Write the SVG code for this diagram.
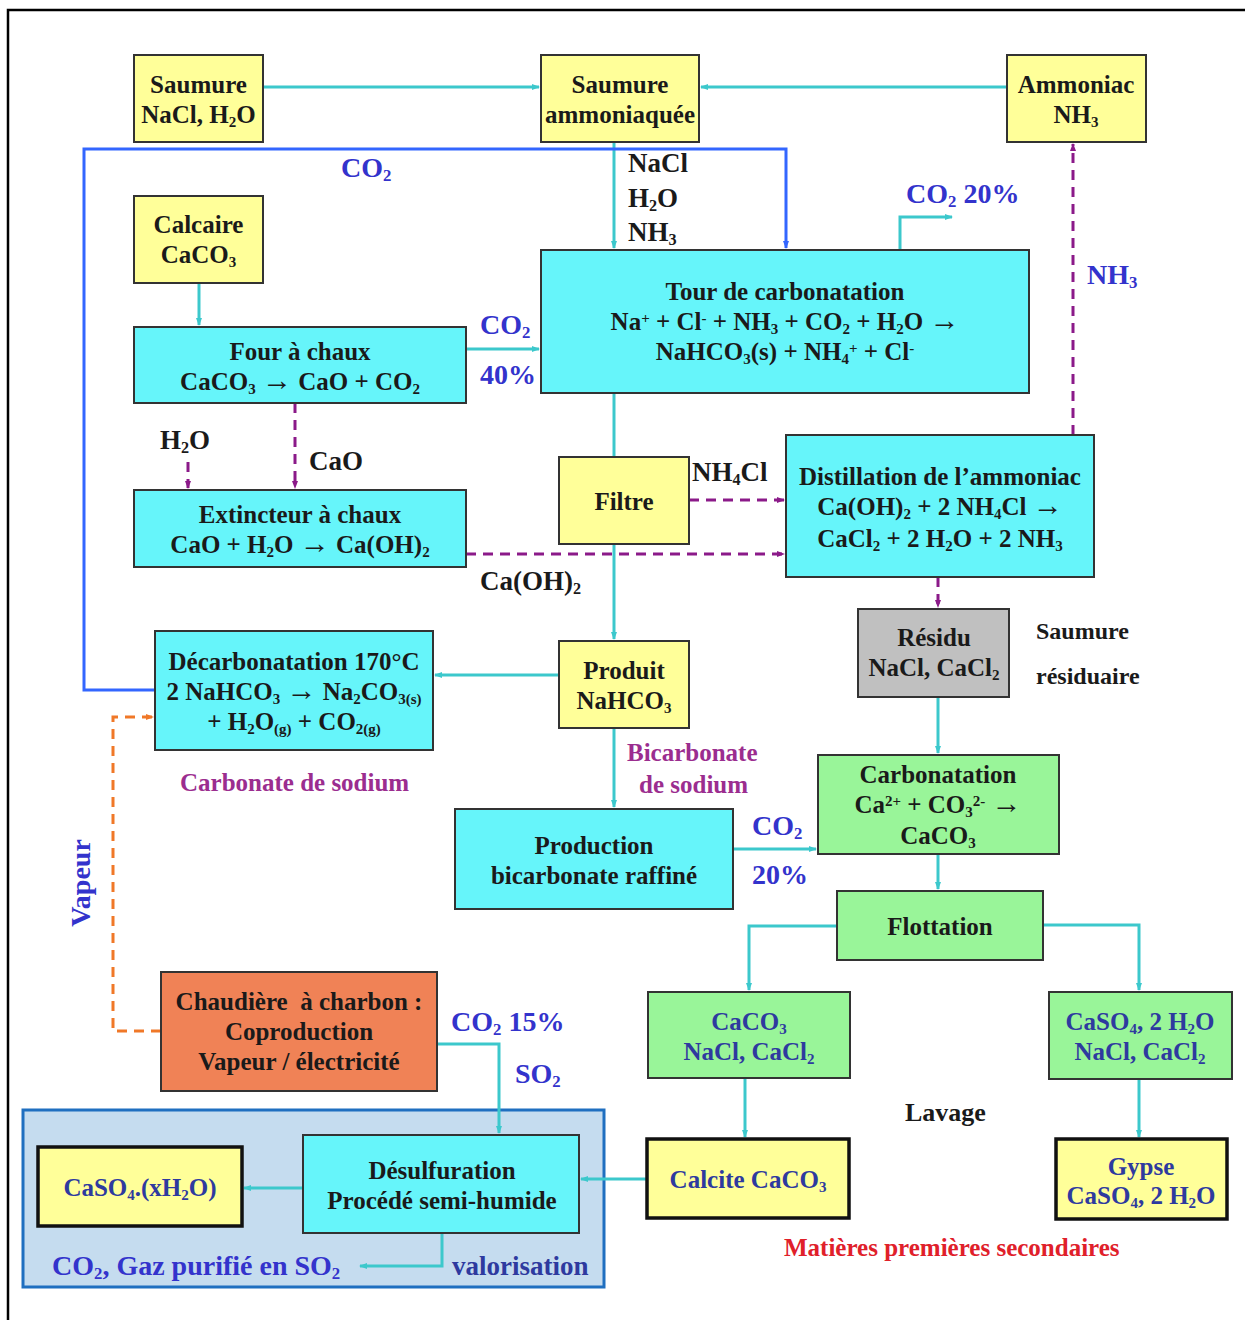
<svg xmlns="http://www.w3.org/2000/svg" width="1245" height="1320" viewBox="0 0 1245 1320" font-family="'Liberation Serif', 'DejaVu Serif', serif">
<style>
text{font-family:'Liberation Serif','DejaVu Serif',serif;font-weight:bold;font-size:25px;fill:#1a1a1a}
.c{text-anchor:middle}
.k{font-size:27px}
.b{fill:#3333CC;font-size:28px}
.bd{fill:#2E3A9F}
.p{fill:#9B2D8F;font-size:25px}
.r{fill:#E0202A;font-size:25px}
.sb{font-size:0.6em;baseline-shift:-4px}
.sp{font-size:0.6em;baseline-shift:7px}
.ar{font-size:1.2em}
.y{fill:#FFFF99;stroke:#333;stroke-width:2}
.cy{fill:#66F5FA;stroke:#333;stroke-width:2}
.g{fill:#99F599;stroke:#333;stroke-width:2}
.gr{fill:#C0C0C0;stroke:#333;stroke-width:2}
.o{fill:#F08256;stroke:#333;stroke-width:2}
.yt{fill:#FFFF99;stroke:#111;stroke-width:3.5}
.l{fill:none;stroke:#3CC8CC;stroke-width:3;marker-end:url(#ac)}
.l0{fill:none;stroke:#3CC8CC;stroke-width:3}
.d{fill:none;stroke:#8B1A89;stroke-width:3;stroke-dasharray:10,7;marker-end:url(#ap)}
.bl{fill:none;stroke:#3366FF;stroke-width:3;marker-end:url(#ab)}
.od{fill:none;stroke:#F07828;stroke-width:3;stroke-dasharray:10,7;marker-end:url(#ao)}
</style>
<defs>
<marker id="ac" markerWidth="8" markerHeight="8" refX="7" refY="4" orient="auto" markerUnits="userSpaceOnUse"><path d="M0,1 L8,4 L0,7 z" fill="#3CC8CC"/></marker>
<marker id="ap" markerWidth="8" markerHeight="8" refX="7" refY="4" orient="auto" markerUnits="userSpaceOnUse"><path d="M0,1 L8,4 L0,7 z" fill="#8B1A89"/></marker>
<marker id="ab" markerWidth="8" markerHeight="8" refX="7" refY="4" orient="auto" markerUnits="userSpaceOnUse"><path d="M0,1 L8,4 L0,7 z" fill="#3366FF"/></marker>
<marker id="ao" markerWidth="8" markerHeight="8" refX="7" refY="4" orient="auto" markerUnits="userSpaceOnUse"><path d="M0,1 L8,4 L0,7 z" fill="#F07828"/></marker>
</defs>
<rect x="0" y="0" width="1245" height="1320" fill="#fff"/>
<path d="M8,1320 V10 H1245" fill="none" stroke="#000" stroke-width="2.5"/>

<g id="container">
<rect x="23" y="1110" width="581" height="177" fill="#C5DCEF" stroke="#1F6FC0" stroke-width="3"/>
</g>

<g id="connectors">
<path class="l" d="M263,87 H539"/>
<path class="l" d="M1007,87 H701"/>
<path class="l" d="M614,142 V248"/>
<path class="bl" d="M155,690 H84 V149 H786 V248"/>
<path class="l" d="M199,283 V325"/>
<path class="l" d="M466,349 H539"/>
<path class="l" d="M900,250 V217 H952"/>
<path class="d" d="M295,403 V488"/>
<path class="d" d="M188,462 V488"/>
<path class="d" d="M466,554 H784"/>
<path class="l0" d="M614,393 V457"/>
<path class="d" d="M689,500 H784"/>
<path class="l" d="M614,544 V639"/>
<path class="d" d="M1073,435 V144"/>
<path class="d" d="M938,577 V607"/>
<path class="l" d="M938,697 V753"/>
<path class="l" d="M559,675 H435"/>
<path class="l" d="M614,728 V807"/>
<path class="l" d="M733,849 H816"/>
<path class="l" d="M938,854 V889"/>
<path class="l" d="M837,926 H749 V990"/>
<path class="l" d="M1043,925 H1139 V990"/>
<path class="l" d="M745,1078 V1137"/>
<path class="l" d="M1139,1079 V1137"/>
<path class="l" d="M647,1179 H581"/>
<path class="l" d="M303,1188 H244"/>
<path class="l" d="M442,1233 V1266 H360"/>
<path class="l" d="M437,1044 H499 V1133"/>
<path class="od" d="M161,1031 H113 V717 H153"/>
</g>

<g id="saumure">
<rect class="y" x="134" y="55" width="129" height="87"/>
<text class="c" x="198.5" y="93">Saumure</text>
<text class="c" x="198.5" y="123">NaCl, H<tspan class="sb">2</tspan>O</text>
</g>
<g id="saumure-ammoniaquee">
<rect class="y" x="541" y="55" width="158" height="87"/>
<text class="c" x="620" y="93">Saumure</text>
<text class="c" x="620" y="123">ammoniaquée</text>
</g>
<g id="ammoniac">
<rect class="y" x="1007" y="55" width="139" height="87"/>
<text class="c" x="1076" y="93">Ammoniac</text>
<text class="c" x="1076" y="123">NH<tspan class="sb">3</tspan></text>
</g>
<g id="calcaire">
<rect class="y" x="134" y="196" width="129" height="87"/>
<text class="c" x="198.5" y="233">Calcaire</text>
<text class="c" x="198.5" y="263">CaCO<tspan class="sb">3</tspan></text>
</g>
<g id="four">
<rect class="cy" x="134" y="327" width="332" height="76"/>
<text class="c" x="300" y="360">Four à chaux</text>
<text class="c" x="300" y="390">CaCO<tspan class="sb">3</tspan> <tspan class="ar">→</tspan> CaO + CO<tspan class="sb">2</tspan></text>
</g>
<g id="tour">
<rect class="cy" x="541" y="250" width="488" height="143"/>
<text class="c" x="785" y="300">Tour de carbonatation</text>
<text class="c" x="785" y="330">Na<tspan class="sp">+</tspan> + Cl<tspan class="sp">-</tspan> + NH<tspan class="sb">3</tspan> + CO<tspan class="sb">2</tspan> + H<tspan class="sb">2</tspan>O <tspan class="ar">→</tspan></text>
<text class="c" x="785" y="360">NaHCO<tspan class="sb">3</tspan>(s) + NH<tspan class="sb">4</tspan><tspan class="sp">+</tspan> + Cl<tspan class="sp">-</tspan></text>
</g>
<g id="extincteur">
<rect class="cy" x="134" y="490" width="332" height="77"/>
<text class="c" x="300" y="523">Extincteur à chaux</text>
<text class="c" x="300" y="553">CaO + H<tspan class="sb">2</tspan>O <tspan class="ar">→</tspan> Ca(OH)<tspan class="sb">2</tspan></text>
</g>
<g id="filtre">
<rect class="y" x="559" y="457" width="130" height="87"/>
<text class="c" x="624" y="510">Filtre</text>
</g>
<g id="distillation">
<rect class="cy" x="786" y="435" width="308" height="142"/>
<text class="c" x="940" y="485">Distillation de l’ammoniac</text>
<text class="c" x="940" y="515">Ca(OH)<tspan class="sb">2</tspan> + 2 NH<tspan class="sb">4</tspan>Cl <tspan class="ar">→</tspan></text>
<text class="c" x="940" y="547">CaCl<tspan class="sb">2</tspan> + 2 H<tspan class="sb">2</tspan>O + 2 NH<tspan class="sb">3</tspan></text>
</g>
<g id="residu">
<rect class="gr" x="858" y="609" width="151" height="88"/>
<text class="c" x="934" y="646">Résidu</text>
<text class="c" x="934" y="676">NaCl, CaCl<tspan class="sb">2</tspan></text>
</g>
<g id="decarbonatation">
<rect class="cy" x="155" y="631" width="278" height="119"/>
<text class="c" x="294" y="670">Décarbonatation 170°C</text>
<text class="c" x="294" y="700">2 NaHCO<tspan class="sb">3</tspan> <tspan class="ar">→</tspan> Na<tspan class="sb">2</tspan>CO<tspan class="sb">3(s)</tspan></text>
<text class="c" x="294" y="730">+ H<tspan class="sb">2</tspan>O<tspan class="sb">(g)</tspan> + CO<tspan class="sb">2(g)</tspan></text>
</g>
<g id="produit">
<rect class="y" x="559" y="641" width="130" height="87"/>
<text class="c" x="624" y="679">Produit</text>
<text class="c" x="624" y="709">NaHCO<tspan class="sb">3</tspan></text>
</g>
<g id="production">
<rect class="cy" x="455" y="809" width="278" height="100"/>
<text class="c" x="594" y="854">Production</text>
<text class="c" x="594" y="884">bicarbonate raffiné</text>
</g>
<g id="carbonatation">
<rect class="g" x="818" y="755" width="241" height="99"/>
<text class="c" x="938" y="783">Carbonatation</text>
<text class="c" x="938" y="813">Ca<tspan class="sp">2+</tspan> + CO<tspan class="sb">3</tspan><tspan class="sp">2-</tspan> <tspan class="ar">→</tspan></text>
<text class="c" x="938" y="844">CaCO<tspan class="sb">3</tspan></text>
</g>
<g id="flottation">
<rect class="g" x="837" y="891" width="206" height="69"/>
<text class="c" x="940" y="935">Flottation</text>
</g>
<g id="caco3-mix">
<rect class="g" x="648" y="992" width="202" height="86"/>
<text class="c bd" x="749" y="1030">CaCO<tspan class="sb">3</tspan></text>
<text class="c bd" x="749" y="1060">NaCl, CaCl<tspan class="sb">2</tspan></text>
</g>
<g id="caso4-mix">
<rect class="g" x="1049" y="992" width="183" height="87"/>
<text class="c bd" x="1140" y="1030">CaSO<tspan class="sb">4</tspan>, 2 H<tspan class="sb">2</tspan>O</text>
<text class="c bd" x="1140" y="1060">NaCl, CaCl<tspan class="sb">2</tspan></text>
</g>
<g id="calcite">
<rect class="yt" x="647" y="1139" width="202" height="79"/>
<text class="c bd" x="748" y="1188">Calcite CaCO<tspan class="sb">3</tspan></text>
</g>
<g id="gypse">
<rect class="yt" x="1056" y="1139" width="171" height="80"/>
<text class="c bd" x="1141" y="1175">Gypse</text>
<text class="c bd" x="1141" y="1204">CaSO<tspan class="sb">4</tspan>, 2 H<tspan class="sb">2</tspan>O</text>
</g>
<g id="chaudiere">
<rect class="o" x="161" y="972" width="276" height="119"/>
<text class="c" x="299" y="1010" xml:space="preserve">Chaudière  à charbon :</text>
<text class="c" x="299" y="1040">Coproduction</text>
<text class="c" x="299" y="1070">Vapeur / électricité</text>
</g>
<g id="caso4-xh2o">
<rect class="yt" x="38" y="1147" width="204" height="79"/>
<text class="c bd" x="140" y="1196">CaSO<tspan class="sb">4</tspan>.(xH<tspan class="sb">2</tspan>O)</text>
</g>
<g id="desulfuration">
<rect class="cy" x="303" y="1135" width="276" height="98"/>
<text class="c" x="442" y="1179">Désulfuration</text>
<text class="c" x="442" y="1209">Procédé semi-humide</text>
</g>

<g id="labels">
<text class="k" x="628" y="172">NaCl</text>
<text class="k" x="628" y="207">H<tspan class="sb">2</tspan>O</text>
<text class="k" x="628" y="241">NH<tspan class="sb">3</tspan></text>
<text class="b" x="341" y="177">CO<tspan class="sb">2</tspan></text>
<text class="b" x="480" y="334">CO<tspan class="sb">2</tspan></text>
<text class="b" x="480" y="384">40%</text>
<text class="b" x="906" y="203">CO<tspan class="sb">2</tspan> 20%</text>
<text class="k" x="160" y="449">H<tspan class="sb">2</tspan>O</text>
<text class="k" x="309" y="470">CaO</text>
<text class="k" x="692" y="481">NH<tspan class="sb">4</tspan>Cl</text>
<text class="k" x="480" y="590">Ca(OH)<tspan class="sb">2</tspan></text>
<text class="b" x="1087" y="284">NH<tspan class="sb">3</tspan></text>
<text x="1036" y="639" style="font-size:24px">Saumure</text>
<text x="1036" y="684" style="font-size:24px">résiduaire</text>
<text class="p" x="180" y="791">Carbonate de sodium</text>
<text class="p" x="627" y="761">Bicarbonate</text>
<text class="p" x="639" y="793">de sodium</text>
<text class="b" x="752" y="835">CO<tspan class="sb">2</tspan></text>
<text class="b" x="752" y="884">20%</text>
<text x="905" y="1121" style="font-size:26px">Lavage</text>
<text class="b" x="451" y="1031">CO<tspan class="sb">2</tspan> 15%</text>
<text class="b" x="515" y="1083">SO<tspan class="sb">2</tspan></text>
<text class="b" x="52" y="1275">CO<tspan class="sb">2</tspan>, Gaz purifié en SO<tspan class="sb">2</tspan></text>
<text class="bd" x="452" y="1275" style="font-size:27px">valorisation</text>
<text class="b" transform="translate(90,883) rotate(-90)" style="text-anchor:middle">Vapeur</text>
<text class="r" x="784" y="1256">Matières premières secondaires</text>
</g>
</svg>
